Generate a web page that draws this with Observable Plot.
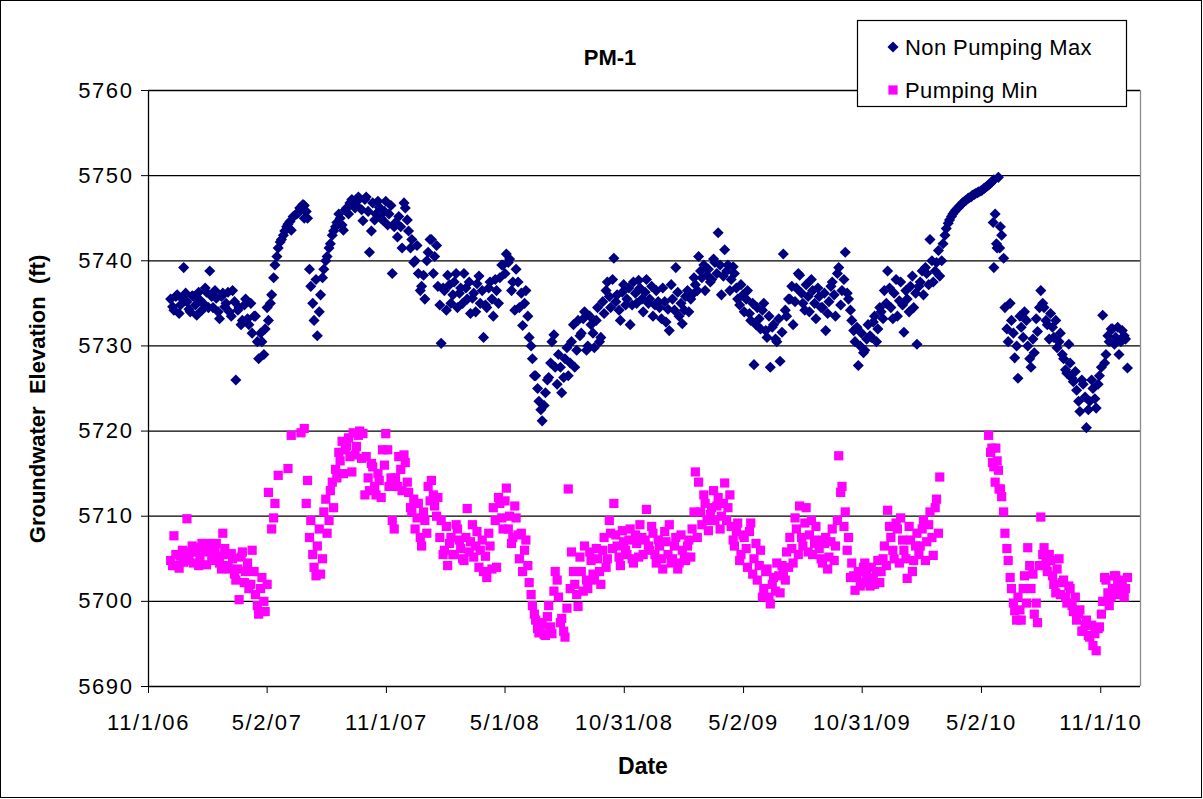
<!DOCTYPE html>
<html><head><meta charset="utf-8">
<script src="https://cdn.jsdelivr.net/npm/d3@7"></script>
<script src="https://cdn.jsdelivr.net/npm/@observablehq/plot@0.6"></script>
<style>body{margin:0;background:#fff} svg{display:block}</style>
</head><body><div id="chart"></div>
<script>
const titleText = "PM-1";
const xLabel = "Date";
const yLabel = "Groundwater  Elevation  (ft)";
const seriesNames = ["Non Pumping Max", "Pumping Min"];
const seriesColors = ["#000080", "#ff00ff"];
const stepDays = 5;
const startDateA = "2006-12-05";
const startDateB = "2006-12-08";

// Non Pumping Max, readings every 5 days from startDateA
const nonPumpingMaxA = [
5735.5,5734.2,5736,5734.8,5739.2,5735.2,5734,5735.8,5733.6,5735.4,
5735,5736.3,5738.8,5734.5,5735.6,5733.2,5736.2,5735,5734,5736.5,
5726,5734.5,5733,5735.5,5732.5,5731.5,5733.5,5728.5,5730.5,5732,
5733,5736,5739.5,5741.5,5742.5,5743.5,5744.3,5743.6,5745.3,5745.6,
5746,5746.5,5745,5737,5733,5731.2,5736,5739,5740.5,5742,
5743.5,5744.5,5745,5743.6,5746.2,5746.8,5747,5746.5,5747.3,5744.7,
5747.5,5741,5746.8,5745.5,5746.3,5744.8,5747,5745.5,5738.5,5744.5,
5745.2,5741.5,5746.2,5743.5,5742.5,5740,5738.5,5737,5735.5,5741,
5742.5,5740.5,5737,5730.3,5736.5,5738.3,5735,5737.5,5734.5,5736.8,
5738.5,5735.5,5733.8,5736.2,5737.3,5735,5731,5734.5,5737.5,5733.5,
5736.5,5738,5739.5,5740.8,5740.2,5737.5,5739,5734.5,5732.4,5736.5,
5731,5728.5,5726.5,5723.5,5721.2,5724.5,5726.3,5730.5,5727.5,5729,
5724.5,5728.5,5726.5,5730.5,5727.5,5733,5731.5,5734,5730,5732.5,
5729.8,5734.5,5731,5733.8,5737.5,5734.5,5740.3,5736,5733,5737.2,
5735.5,5732.5,5737.5,5735,5736.8,5734,5737.8,5735.5,5733.5,5736.5,
5734.5,5736.8,5732.8,5731.8,5735.5,5739.2,5733.5,5732.6,5735.8,5734,
5736,5737.2,5740.5,5738,5736.5,5739,5737.8,5739.8,5743.3,5736,
5741.3,5739.5,5737.8,5738.5,5735.5,5737.2,5734,5736.5,5733,5727.8,
5734.5,5732,5735,5731,5727.5,5732.5,5730.5,5728.2,5740.8,5733.5,
5735.5,5732.5,5736.8,5738.3,5735,5737.2,5734,5736.5,5733.2,5735.8,
5734.5,5731.8,5735.2,5737.5,5733.5,5739.2,5736.5,5741,5735.5,5733,
5730.5,5727.7,5731.5,5729.5,5732.5,5731,5733.5,5732,5734,5736.5,
5738.8,5734.5,5736.2,5733.5,5737.5,5731.6,5735.5,5737,5734.5,5730.2,
5737.5,5736,5738.5,5742.5,5737.5,5739.8,5738.2,5742,5743.8,5744.8,
5745.5,5746,5746.4,5746.8,5747.1,5747.4,5747.7,5747.9,5748.1,5748.3,
5748.6,5748.9,5749.3,5745.5,5749.8,5743,5734.5,5730.5,5733,5728.6,
5726.2,5732.2,5734,5730,5727.5,5729.2,5731.7,5736.5,5734.5,5732.5,
5733.8,5731,5729.8,5731.5,5728.5,5726.8,5728,5725.8,5724.8,5722.3,
5725.5,5720.4,5723.5,5725,5722.7,5726.5,5733.6,5729,5730.5,5732,
5731,5729,5731.8,5730.8
];
// Non Pumping Max, second set of readings every 5 days from startDateB
const nonPumpingMaxB = [
5734.6,5735.8,5733.8,5735.5,5736.2,5734.3,5735.9,5734.8,5736.3,5734.2,
5736.8,5734.5,5735.8,5736.5,5734,5735.8,5734.6,5736.3,5733.5,5735.2,
5734.2,5732.5,5734.8,5733.2,5735,5733.5,5730.5,5731.5,5729,5734.5,
5735,5738,5740.5,5742.2,5743,5744,5744.6,5745.2,5745.5,5746.2,
5746.6,5745.8,5739,5735,5737.8,5734,5738,5740,5741.5,5743,
5744,5745.5,5744.2,5746,5745.5,5747.2,5746.2,5747.5,5746,5747.2,
5745.8,5743.5,5744.8,5747,5745,5745.8,5744.2,5746.5,5744,5742.8,
5744,5746.8,5744.8,5741.5,5739.8,5741.8,5736.5,5738.3,5740,5742.5,
5738.5,5741.8,5734.8,5736.8,5734.2,5737.2,5736,5738.5,5736.2,5735,
5736.8,5737.5,5735.6,5734,5738.2,5736.5,5734.8,5736.8,5735.5,5737.8,
5735,5739.5,5738.5,5739.8,5736.5,5734.2,5737.5,5736.2,5735,5733.5,
5730,5726.5,5725,5722.5,5723,5726,5728,5731.3,5725.5,5727.5,
5726.3,5729.8,5728,5732.5,5729.5,5731.2,5733.2,5729.5,5733.5,5731.5,
5733,5730.5,5735.2,5736.5,5735.8,5737.8,5735.2,5734.2,5736.3,5734.8,
5736.8,5734.8,5736.2,5737.7,5735.5,5736.3,5735,5737,5734.8,5735.2,
5733.2,5735.2,5734.3,5737.2,5734.2,5736.3,5735,5734.2,5736.5,5735.5,
5738,5736.5,5738.8,5739.5,5738.3,5737.5,5740.2,5738.5,5739.5,5738.2,
5738.8,5736.5,5739.3,5736.8,5734.8,5736,5735.5,5733.8,5735,5732.5,
5733.2,5734.2,5731.8,5733.5,5732.2,5730.8,5733.2,5731.6,5734.2,5735.5,
5737,5735.2,5738.5,5736.2,5734.2,5735.8,5737.8,5735,5736.8,5734.5,
5736.2,5733.8,5737,5736,5738.5,5734.8,5737.8,5736.2,5734.2,5731.8,
5732.2,5730,5729.2,5730.8,5731.2,5732.8,5730.5,5734.5,5733.2,5735,
5736.8,5733.2,5737.8,5735.3,5734.8,5736.5,5734,5738.2,5736.2,5737,
5738.8,5739.2,5737.2,5740,5738.8,5741.2,5740,5743,5744.4,5745.2,
5745.8,5746.2,5746.6,5747,5747.3,5747.5,5747.8,5748,5748.2,5748.5,
5748.8,5749.1,5749.5,5741.5,5744,5740.3,5732,5735,5731.5,5730,
5733.5,5731,5733,5728.5,5730.8,5733.2,5734.5,5735,5733,5730.8,
5732.2,5733,5730.5,5729,5727.2,5730.2,5726.2,5727,5723.5,5726,
5724,5722.5,5726,5723.8,5725.5,5727.5,5728,5731.2,5732,5730.2,
5732.2,5730.5,5731.2,5727.4
];

// Pumping Min, readings every 5 days from startDateA
const pumpingMinA = [
5704.8,5707.7,5704.2,5705.3,5704.6,5709.7,5705.8,5704.5,5706.3,5705.2,
5706.5,5704.3,5706,5705,5706.8,5704.5,5708,5705.5,5703.8,5705,
5702.5,5700.2,5705.8,5703.5,5701.5,5706,5700.8,5698.5,5702.8,5698.8,
5712.8,5708.5,5711.5,5714.8,null,null,5715.6,5719.5,null,null,
5719.8,5720.3,5714.2,5709.5,5704,5706.5,5703.2,5710.5,5708,5713,
5711,5714.5,5716.5,5715,5718.3,5717,5719.8,5718.2,5720,5719.7,
5717,5713,5715.8,5712.5,5714.2,5717.8,5719.7,5713.5,5709.5,5714.5,
5717,5713,5716.3,5712.8,5710.5,5708.5,5711.5,5706.5,5709.5,5713.5,
5714.2,5711.2,5712.2,5709.5,5706,5704.2,5707.5,5705.5,5708.5,5706.2,
5704.8,5710.9,5707,5705.2,5708.2,5706,5703.5,5702.8,5706.5,5711,
5704,5711.5,5708.5,5713.3,5710,5707.5,5709.8,5705,5703.5,5707.2,
5702.2,5699.5,5697.8,5696.3,5697.2,5696,5699.5,5696.2,5703.5,5700.5,
5698,5695.8,5713.2,5705.8,5702,5699.4,5703.5,5706.5,5701.5,5704.8,
5702.5,5705,5702,5707.5,5705,5708,5711.5,5706.5,5704.2,5707,
5705.5,5708.5,5704.5,5706.8,5709,5705.5,5710.8,5706,5708,5704.5,
5706.5,5703.8,5707,5709,5705,5707.5,5704.5,5706,5704.8,5707.2,
5708.5,5715.2,5714,5709,5711.5,5708.3,5711,5709.5,5712.2,5710,
5713.9,5711,5708.8,5706.5,5709.2,5705.5,5707.5,5704,5709.2,5705,
5702.5,5706,5701.5,5703.8,5699.7,5702.8,5704.5,5701,5703.5,5705.8,
5707.5,5704.5,5708.5,5711.2,5706.5,5711,5707.8,5705.5,5708.8,5706.2,
5704.5,5707.5,5705.2,5708.5,5706.5,5717.1,5713.5,5710.5,5707.5,5704.5,
5701.3,5703.5,5702.2,5704.5,5702.8,5704,5702,5704.8,5703.5,5706.5,
5710.7,5707.5,5705,5708.5,5709.8,5706,5702.7,5707.2,5704.8,5708,
5706.5,5709.5,5707,5710.5,5705.4,5712,5714.6,null,null,null,
null,null,null,null,null,null,null,null,null,null,
null,5719.5,5718,5714,5715.4,5712.3,5708,5704.8,5701.5,5698.9,
5700.5,5697.8,5703,5706.3,5701.5,5698.5,5697.5,5709.9,5706.3,5703.5,
5704.8,5702,5703.8,5700.8,5702.5,5699.8,5701.5,5698.8,5697.8,5699,
5696.5,5697.8,5695.8,5694.8,5694.2,5697,5700,5702.5,5699.5,5701.5,
5703,5700.8,5702.5,5701.5
];
// Pumping Min, second set of readings every 5 days from startDateB
const pumpingMinB = [
5704.2,5705.5,5703.9,5706,5705.2,5704.8,5706.5,5705.8,5704.2,5706.8,
5705.8,5706.8,5704.8,5706.3,5705.3,5703.8,5706.2,5704.2,5705.6,5703.2,
5703.8,5705.2,5702.2,5704.5,5702,5703.5,5699.5,5701.5,5700,5702,
null,5709.8,null,null,null,null,null,null,null,null,
null,5711.5,5707.5,5705.5,5703,5708.5,5705,5712,5709.5,5714,
5715.5,5717.5,5718.8,5717.8,5719.2,5715.2,5717.2,5719.5,5716.8,5712.5,
5714.5,5716.2,5713.5,5715,5712.2,5716,5717.8,5714.5,5708.5,5713.5,
5715.5,5717.2,5714,5711,5712,5709.8,5707.5,5710.5,5708,5711.8,
5712.5,5710,5707.5,5705.5,5708.8,5706.8,5705.5,5709,5707.2,5705,
5707.5,5705.8,5709,5706.5,5704,5707.2,5705.3,5708,5703.8,5709.5,
5712.2,5709.8,5711.8,5708.5,5706.8,5711.2,5707.8,5708,5706,5704.2,
5700.8,5698.5,5696.8,5697.5,5696.1,5698.2,5697,5701.2,5702.5,5697.5,
5696.5,5699.2,5701.5,5703.5,5700.8,5705.2,5701.2,5702.5,5705.8,5703.2,
5706.2,5703.5,5706,5704,5709.5,5706.2,5707.8,5705.2,5708.3,5706,
5707.2,5705,5707.8,5705.2,5707.5,5707.2,5706.5,5708.8,5705.5,5707.2,
5705,5708.2,5705.5,5704.5,5706.5,5703.8,5707.8,5705.2,5706.5,5705.2,
5710.5,5707.5,5710.5,5712.5,5709.5,5710.2,5713,5711.2,5708.5,5711.5,
5709.5,5712.5,5707.2,5708.2,5704.8,5707.8,5706.2,5708.2,5703.2,5706.8,
5704.2,5700.5,5703.5,5700.5,5702,5701.2,5703,5704.2,5702.5,5704,
5706.2,5709.8,5705.5,5707.5,5709.2,5705.8,5709.5,5706.8,5707.2,5705,
5706.8,5703.8,5707,5704.8,5709.5,5712.8,5708.8,5706,5702.8,5703,
5702.8,5701.8,5704,5703,5701.8,5702.8,5703.5,5702.2,5705,5704.2,
5708.8,5706,5709.2,5704.5,5707.2,5705,5708.8,5703.5,5706.5,5705.5,
5708.5,5704.8,5709,5707.5,5711,5708,null,null,null,null,
null,null,null,null,null,null,null,null,null,null,
null,5717.5,5715.8,5716.5,5713.2,5710.5,5706.2,5702.8,5699.8,5697.8,
5699,5701.5,5699.8,5704.2,5703.2,5699.8,5704.2,5705.5,5704.5,5705.5,
5703,5701,5705,5702.2,5700.5,5701.8,5699.5,5700.5,5698.5,5696.5,
5697.2,5696,5697.2,5696.2,5696.8,5698.5,5702.8,5701,5700.5,5703,
5702,5701.8,5700.5,5702.8
];

const nonPumpingMaxExtraDates = ["2007-06-28","2010-05-20","2010-05-21","2010-05-25","2010-05-30"];
const nonPumpingMaxExtraValues = [5745,5744.5,5739.2,5742,5741.5];
const pumpingMinExtraDates = ["2010-05-19","2010-05-24","2010-05-29"];
const pumpingMinExtraValues = [5716.3,5718,5713.2];

const yTicks = [5690,5700,5710,5720,5730,5740,5750,5760];
const xTickDates = ["2006-11-01","2007-05-02","2007-11-01","2008-05-01","2008-10-31","2009-05-02","2009-10-31","2010-05-02","2010-11-01"];
const xTickLabels = ["11/1/06","5/2/07","11/1/07","5/1/08","10/31/08","5/2/09","10/31/09","5/2/10","11/1/10"];
const xDomain = ["2006-11-01","2011-01-01"];

const parse = s => new Date(s + "T00:00:00Z");
function addRows(r, vals, start, name) {
  const t0 = parse(start);
  vals.forEach((v, i) => { if (v != null) r.push({date: d3.utcDay.offset(t0, i * stepDays), value: v, series: name}); });
}
function buildRows(a, b, extraDates, extraVals, name) {
  const r = [];
  addRows(r, a, startDateA, name);
  addRows(r, b, startDateB, name);
  extraDates.forEach((d, i) => r.push({date: parse(d), value: extraVals[i], series: name}));
  return r;
}
const blueRows = buildRows(nonPumpingMaxA, nonPumpingMaxB, nonPumpingMaxExtraDates, nonPumpingMaxExtraValues, seriesNames[0]);
const pinkRows = buildRows(pumpingMinA, pumpingMinB, pumpingMinExtraDates, pumpingMinExtraValues, seriesNames[1]);

const FONT = "'Liberation Sans', Arial, sans-serif";
const FS = 22;
const rDiamond = 5.0, rSquare = 5.2;
const xTickParsed = xTickDates.map(parse);

const chart = Plot.plot({
  width: 1203, height: 799,
  marginLeft: 148, marginRight: 63, marginTop: 90, marginBottom: 113,
  style: {fontFamily: FONT, fontSize: FS + "px", background: "#fff", color: "#000", overflow: "visible"},
  x: {type: "utc", domain: xDomain.map(parse)},
  y: {domain: [5690, 5760]},
  marks: [
    Plot.ruleY(yTicks.slice(1), {stroke: "#000", strokeWidth: 1.3}),
    Plot.ruleX([parse(xDomain[1])], {stroke: "#8c8c8c", strokeWidth: 1.3}),
    Plot.dot(blueRows, {x: "date", y: "value", symbol: "diamond2", r: rDiamond, fill: seriesColors[0]}),
    Plot.dot(pinkRows, {x: "date", y: "value", symbol: "square", r: rSquare, fill: seriesColors[1]}),
    Plot.ruleX([parse(xDomain[0])], {stroke: "#000", strokeWidth: 1.3}),
    Plot.ruleY([5690], {stroke: "#000", strokeWidth: 1.5}),
    Plot.axisY(yTicks, {tickSize: 7, tickPadding: 8, tickFormat: d => String(d), label: null, fontSize: FS}),
    Plot.axisX(xTickParsed, {tickSize: 7, tickPadding: 21, label: null, fontSize: FS,
      tickFormat: d => xTickLabels[xTickParsed.findIndex(t => +t === +d)]})
  ]
});

const svg = d3.select(chart);
svg.selectAll("g[aria-label='y-axis tick label'], g[aria-label='x-axis tick label']")
  .attr("letter-spacing", "1.6px");

svg.append("text").attr("x", 610).attr("y", 65).attr("text-anchor", "middle")
  .attr("font-family", FONT).attr("font-weight", "bold").attr("font-size", FS).text(titleText);
svg.append("text").attr("x", 643).attr("y", 774).attr("text-anchor", "middle")
  .attr("font-family", FONT).attr("font-weight", "bold").attr("font-size", 23).text(xLabel);
svg.append("text").attr("transform", "translate(45,399) rotate(-90)").attr("text-anchor", "middle")
  .attr("font-family", FONT).attr("font-weight", "bold").attr("font-size", FS)
  .style("white-space", "pre").text(yLabel);

const lg = svg.append("g");
lg.append("rect").attr("x", 857.5).attr("y", 20.5).attr("width", 269).attr("height", 86)
  .attr("fill", "#fff").attr("stroke", "#000").attr("stroke-width", 1.2);
const legendSymbols = [d3.symbolDiamond2, d3.symbolSquare];
const legendR = [rDiamond, rSquare];
const legendY = [47, 90];
seriesNames.forEach((name, i) => {
  lg.append("path").attr("transform", `translate(893,${legendY[i]})`)
    .attr("d", d3.symbol(legendSymbols[i], Math.PI * legendR[i] * legendR[i])())
    .attr("fill", seriesColors[i]);
  lg.append("text").attr("x", 905).attr("y", legendY[i]).attr("dy", "0.35em")
    .attr("text-anchor", "start").attr("letter-spacing", "0.4px")
    .attr("font-family", FONT).attr("font-size", FS).text(name);
});

svg.append("rect").attr("x", 0.5).attr("y", 0.5).attr("width", 1201).attr("height", 797)
  .attr("fill", "none").attr("stroke", "#000").attr("stroke-width", 1);

document.getElementById("chart").appendChild(chart);
</script>
</body></html>
